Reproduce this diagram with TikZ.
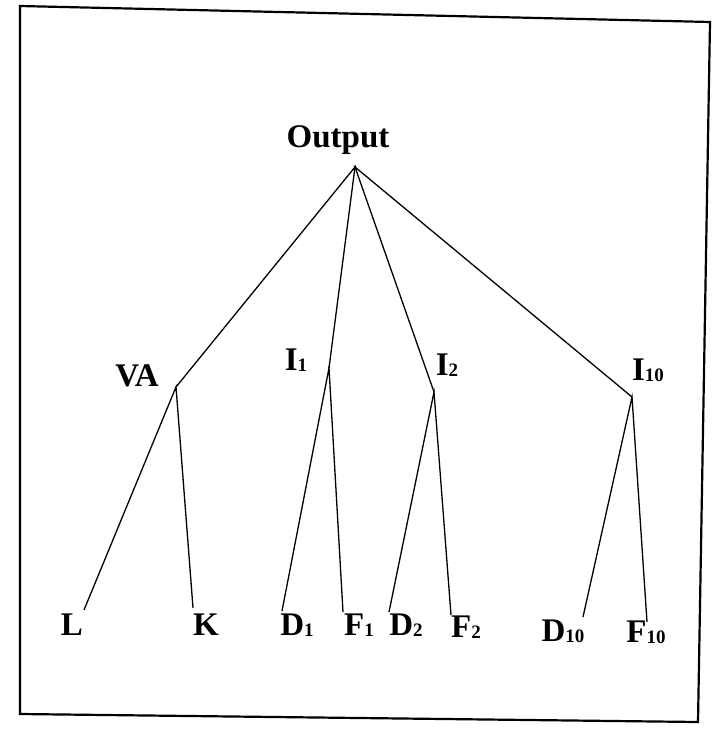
\documentclass[tikz,border=0pt]{standalone}
\usepackage{fontspec}
\setmainfont{Liberation Serif}
\newcommand{\lbsub}[1]{\raisebox{-1.5pt}{\fontsize{19}{19}\selectfont #1}}
\tikzset{
  lbl/.style={font=\fontsize{33}{36}\selectfont\bfseries, inner sep=0pt, anchor=base},
  branch/.style={line width=1.3pt}
}
\begin{document}
\begin{tikzpicture}[x=1pt,y=-1pt]
\useasboundingbox (0,0) rectangle (713,730);
\draw[line width=2.2pt] (20,6) -- (710,22) -- (698,722) -- (20,714) -- cycle;
\node[lbl] (output) at (338,148) {Output};
\node[lbl] (va) at (137,386) {VA};
\node[lbl] (i1) at (296,370) {I\lbsub{1}};
\node[lbl] (i2) at (447,375) {I\lbsub{2}};
\node[lbl] (i10) at (648,380) {I\lbsub{10}};
\node[lbl] (l) at (72,635) {L};
\node[lbl] (k) at (206,635) {K};
\node[lbl] (d1) at (297,635) {D\lbsub{1}};
\node[lbl] (f1) at (359,635) {F\lbsub{1}};
\node[lbl] (d2) at (406,635) {D\lbsub{2}};
\node[lbl] (f2) at (466,637) {F\lbsub{2}};
\node[lbl] (d10) at (563,641) {D\lbsub{10}};
\node[lbl] (f10) at (646,642) {F\lbsub{10}};
\coordinate (top) at (355,167);
\coordinate (vaJ) at (176,387);
\coordinate (i1J) at (329,368);
\coordinate (i2J) at (434,392);
\coordinate (i10J) at (632,397);
\coordinate (lE) at (84,610);
\coordinate (kE) at (193,608);
\coordinate (d1E) at (282,611);
\coordinate (f1E) at (343,612);
\coordinate (d2E) at (389,612);
\coordinate (f2E) at (451,615);
\coordinate (d10E) at (583,617);
\coordinate (f10E) at (647,622);
\draw[branch] (vaJ) -- (top) -- (i1J);
\draw[branch] (i2J) -- (top) -- (i10J);
\draw[branch] (lE) -- (vaJ) -- (kE);
\draw[branch] (d1E) -- (i1J) -- (f1E);
\draw[branch] (d2E) -- (i2J) -- (f2E);
\draw[branch] (d10E) -- (i10J) -- (f10E);
\end{tikzpicture}
\end{document}
